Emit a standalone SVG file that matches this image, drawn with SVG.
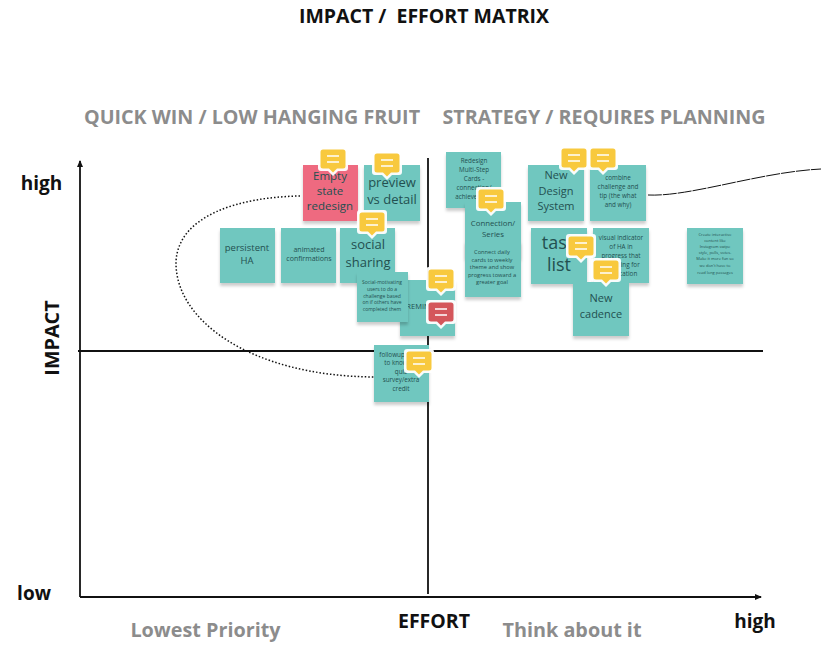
<svg xmlns="http://www.w3.org/2000/svg" width="821" height="666" viewBox="0 0 821 666">
<defs>
<filter id="sh" x="-20%" y="-20%" width="140%" height="140%"><feDropShadow dx="0" dy="3" stdDeviation="1.8" flood-color="#000" flood-opacity=".2"/></filter>
<marker id="ah" markerUnits="userSpaceOnUse" markerWidth="8" markerHeight="8" refX="6" refY="3" orient="auto"><path d="M0 0L7 3L0 6Z" fill="#111"/></marker>
<g id="cm"><path d="M-12 -14H12Q15 -14 15 -11V7Q15 10 12 10H5L0 15L-5 10H-12Q-15 10 -15 7V-11Q-15 -14 -12 -14Z" fill="#fff" opacity=".95"/><path d="M-10 -11.500H10Q12.500 -11.500 12.500 -9V5Q12.500 7.500 10 7.500H4L0 11.500L-4 7.500H-10Q-12.500 7.500 -12.500 5V-9Q-12.500 -11.500 -10 -11.500Z" fill="currentColor"/><path d="M-6 -5H6M-6 1H6" stroke="#fff" stroke-width="2" opacity=".75"/></g>
</defs>
<style>
text{font-family:"Open Sans","Noto Sans","Liberation Sans",sans-serif;text-anchor:middle}
.n{fill:#6fc7bf;filter:url(#sh)}
.p{fill:#ee6b80;filter:url(#sh)}
.t{fill:#235050}
.h{font-weight:700;fill:#111}
.g{font-weight:700;fill:#8c8c8c}
.y{color:#f8c93e}
.r{color:#d4565b}
</style>
<g id="labels">
<text class="h" x="424" y="23" font-size="19.500" style="white-space:pre">IMPACT /  EFFORT MATRIX</text>
<text class="g" x="252" y="124" font-size="19.700">QUICK WIN / LOW HANGING FRUIT</text>
<text class="g" x="604" y="124" font-size="19.700">STRATEGY / REQUIRES PLANNING</text>
<text class="h" x="41.500" y="190" font-size="19">high</text>
<text class="h" x="34" y="600" font-size="19">low</text>
<text class="h" transform="translate(59 338) rotate(-90)" font-size="19.800">IMPACT</text>
<text class="h" x="434" y="628" font-size="19.500">EFFORT</text>
<text class="h" x="755" y="628" font-size="19">high</text>
<text class="g" x="205.500" y="637" font-size="19.800">Lowest Priority</text>
<text class="g" x="572" y="637" font-size="19.800">Think about it</text>
</g>
<g id="connectors" fill="none" stroke="#111">
<path d="M80 597V161" stroke-width="1.800" marker-end="url(#ah)"/>
<path d="M80 597H761" stroke-width="1.800" marker-end="url(#ah)"/>
<path d="M78 351H763" stroke-width="1.800"/>
<path d="M428 158V594" stroke-width="1.800"/>
<path d="M300 196C240 197 178 215 176 262C175 320 250 376 374 377" stroke-width="1.500" stroke-dasharray="1.500 2"/>
<path d="M648 195C690 197 760 172 821 169" stroke-width="1" stroke-dasharray="14 1"/>
</g>
<g id="n-empty"><rect class="p" x="303" y="165" width="55" height="56"/><text class="t" font-size="11.500"><tspan x="330" y="180">Empty</tspan><tspan x="330" y="195">state</tspan><tspan x="330" y="210">redesign</tspan></text></g>
<g id="n-preview"><rect class="n" x="364" y="165" width="56" height="56"/><text class="t" font-size="13"><tspan x="392" y="187">preview</tspan><tspan x="392" y="204">vs detail</tspan></text></g>
<g id="n-persistent"><rect class="n" x="220" y="228" width="55" height="55"/><text class="t" font-size="9.500"><tspan x="247" y="251">persistent</tspan><tspan x="247" y="264">HA</tspan></text></g>
<g id="n-animated"><rect class="n" x="281" y="228" width="55" height="55"/><text class="t" font-size="7"><tspan x="309" y="252">animated</tspan><tspan x="309" y="261">confirmations</tspan></text></g>
<g id="n-social"><rect class="n" x="340" y="228" width="55" height="55"/><text class="t" font-size="13"><tspan x="368" y="249">social</tspan><tspan x="368" y="267">sharing</tspan></text></g>
<g id="n-reminder"><rect class="n" x="400" y="280" width="55" height="56"/><text class="t" font-size="7.500"><tspan x="418" y="309">REMIN</tspan></text></g>
<g id="n-motivating"><rect class="n" x="357" y="272" width="51" height="50"/><text class="t" font-size="5"><tspan x="382" y="284">Social-motivating</tspan><tspan x="382" y="290.800">users to do a</tspan><tspan x="382" y="297.600">challenge based</tspan><tspan x="382" y="304.400">on if others have</tspan><tspan x="382" y="311.200">completed them</tspan></text></g>
<g id="n-followup"><rect class="n" x="374" y="345" width="55" height="57"/><text class="t" font-size="6.300"><tspan x="392" y="357">followup</tspan><tspan x="396" y="365">to know</tspan><tspan x="401" y="374">quiz</tspan><tspan x="401" y="382">survey/extra</tspan><tspan x="401" y="391">credit</tspan></text></g>
<g id="n-redesign"><rect class="n" x="446" y="152" width="55" height="56"/><text class="t" font-size="6.300"><tspan x="474" y="163">Redesign</tspan><tspan x="474" y="172">Multi-Step</tspan><tspan x="474" y="181">Cards -</tspan><tspan x="474" y="190">connection/</tspan><tspan x="474" y="199">achievement</tspan></text></g>
<g id="n-connection"><rect class="n" x="465" y="202" width="56" height="56"/><text class="t" font-size="7.800"><tspan x="493" y="226">Connection/</tspan><tspan x="493" y="237">Series</tspan></text></g>
<g id="n-connect"><rect class="n" x="465" y="241" width="56" height="56"/><text class="t" font-size="5.700"><tspan x="492" y="254">Connect daily</tspan><tspan x="492" y="262">cards to weekly</tspan><tspan x="492" y="269">theme and show</tspan><tspan x="492" y="277">progress toward a</tspan><tspan x="492" y="284">greater goal</tspan></text></g>
<g id="n-design"><rect class="n" x="528" y="165" width="56" height="56"/><text class="t" font-size="11"><tspan x="556" y="179">New</tspan><tspan x="556" y="195">Design</tspan><tspan x="556" y="210">System</tspan></text></g>
<g id="n-combine"><rect class="n" x="590" y="165" width="56" height="56"/><text class="t" font-size="6.300"><tspan x="618" y="180">combine</tspan><tspan x="618" y="189">challenge and</tspan><tspan x="618" y="198">tip (the what</tspan><tspan x="618" y="207">and why)</tspan></text></g>
<g id="n-task"><rect class="n" x="531" y="228" width="56" height="56"/><text class="t" font-size="18"><tspan x="559" y="249">task</tspan><tspan x="559" y="271">list</tspan></text></g>
<g id="n-visual"><rect class="n" x="593" y="228" width="56" height="55"/><text class="t" font-size="6.300"><tspan x="621" y="240">visual indicator</tspan><tspan x="621" y="249">of HA in</tspan><tspan x="621" y="258">progress that</tspan><tspan x="621" y="267">is waiting for</tspan><tspan x="621" y="276">verification</tspan></text></g>
<g id="n-cadence"><rect class="n" x="573" y="282" width="56" height="54"/><text class="t" font-size="11"><tspan x="601" y="302">New</tspan><tspan x="601" y="318">cadence</tspan></text></g>
<g id="n-interactive"><rect class="n" x="687" y="228" width="56" height="56"/><text class="t" font-size="4"><tspan x="715" y="236">Create interactive</tspan><tspan x="715" y="242">content like</tspan><tspan x="715" y="248">Instagram swipe</tspan><tspan x="715" y="254">style, polls, votes.</tspan><tspan x="715" y="260">Make it more fun so</tspan><tspan x="715" y="267">we don't have to</tspan><tspan x="715" y="274">read long passages</tspan></text></g>
<g id="comments">
<use href="#cm" class="y" x="333" y="161"/>
<use href="#cm" class="y" x="387" y="165"/>
<use href="#cm" class="y" x="372" y="224"/>
<use href="#cm" class="y" x="441" y="281"/>
<use href="#cm" class="r" x="441" y="314"/>
<use href="#cm" class="y" x="419" y="363"/>
<use href="#cm" class="y" x="491" y="201"/>
<use href="#cm" class="y" x="574" y="160"/>
<use href="#cm" class="y" x="603" y="160"/>
<use href="#cm" class="y" x="581" y="248"/>
<use href="#cm" class="y" x="606" y="272"/>
</g>
</svg>
